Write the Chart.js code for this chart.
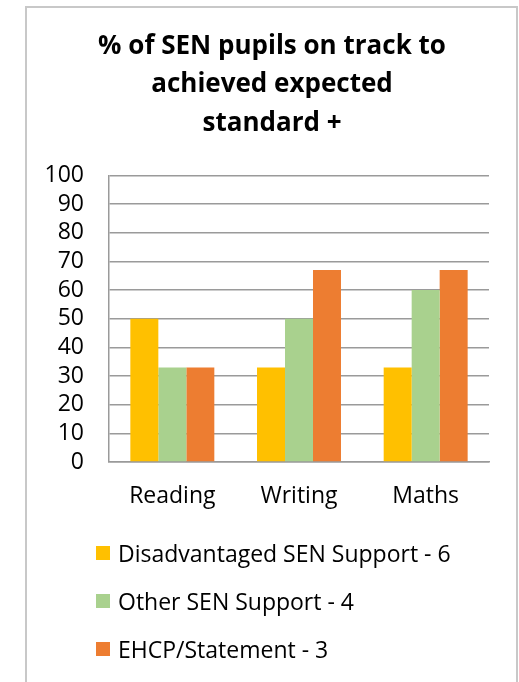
<!DOCTYPE html>
<html>
<head>
<meta charset="utf-8">
<script src="https://cdn.jsdelivr.net/npm/chart.js@4/dist/chart.umd.min.js"></script>
<style>
    body { margin: 0; background: #fff; font-family: "Open Sans", sans-serif; }
    #wrap { position: relative; width: 519px; height: 682px; overflow: hidden; }
    #frame { position: absolute; left: 25px; top: 6px; width: 493px; height: 700px; border: 2px solid #C8C8C8; box-sizing: border-box; }
    #cv { position: absolute; left: 29px; top: 0; }
    #legend { position: absolute; left: 96px; top: 529px; }
    .item { height: 48px; display: flex; align-items: center; font-size: 23px; color: #000; }
    .box { width: 14px; height: 14px; margin-right: 8px; }
</style>
</head>
<body>
<div id="wrap">
    <div id="frame"></div>
    <canvas id="cv" width="486" height="682"></canvas>
    <div id="legend"></div>
</div>
<script>
// ========================================
// DATA
// ========================================
const subjects = ['Reading', 'Writing', 'Maths'];
const seriesNames = ['Disadvantaged SEN Support - 6', 'Other SEN Support - 4', 'EHCP/Statement - 3'];
const disadvantaged = [50, 33, 33];
const otherSen = [33, 50, 60];
const ehcp = [33, 67, 67];
const seriesColors = ['#FFC000', '#A9D18E', '#ED7D31'];
const titleLines = ['% of SEN pupils on track to', 'achieved expected', 'standard +'];

const gridColor = '#9A9A9A';
const font = 'Open Sans';

// ========================================
// CHART
// ========================================
const datasets = [disadvantaged, otherSen, ehcp].map((vals, i) => ({
    label: seriesNames[i],
    data: vals,
    backgroundColor: seriesColors[i],
    borderWidth: 0,
    barPercentage: 1,
    categoryPercentage: 0.663
}));

const chart = new Chart(document.getElementById('cv'), {
    type: 'bar',
    data: { labels: subjects, datasets: datasets },
    options: {
        responsive: false,
        animation: false,
        layout: { padding: { left: 0, right: 0, top: 0, bottom: 150 } },
        plugins: {
            legend: { display: false },
            tooltip: { enabled: false },
            title: {
                display: true,
                text: titleLines,
                color: '#000',
                font: { family: font, size: 26, weight: 'bold', lineHeight: 1.48 },
                padding: { top: 27, bottom: 33 }
            }
        },
        scales: {
            x: {
                grid: { display: false, drawTicks: false },
                border: { color: gridColor, width: 1.5 },
                ticks: { color: '#000', padding: 21, font: { family: font, size: 23 } },
                afterFit: (s) => { s.height = 70; }
            },
            y: {
                min: 0,
                max: 100,
                ticks: { stepSize: 10, autoSkip: false, color: '#000', padding: 25, font: { family: font, size: 23 } },
                grid: { color: gridColor, lineWidth: 1.5, drawTicks: false },
                border: { color: gridColor, width: 1.5 },
                afterFit: (s) => { s.width = 80; }
            },
            // empty right-hand axis, only keeps the plot clear of the frame
            spacer: {
                position: 'right',
                axis: 'y',
                display: true,
                grid: { display: false, drawTicks: false },
                border: { display: false },
                ticks: { display: false },
                afterFit: (s) => { s.width = 26; }
            }
        }
    }
});

// ========================================
// LEGEND (one row per series)
// ========================================
const legendEl = document.getElementById('legend');
chart.data.datasets.forEach(ds => {
    const row = document.createElement('div');
    row.className = 'item';
    row.innerHTML = `<span class="box" style="background:${ds.backgroundColor}"></span>${ds.label}`;
    legendEl.appendChild(row);
});
</script>
</body>
</html>
